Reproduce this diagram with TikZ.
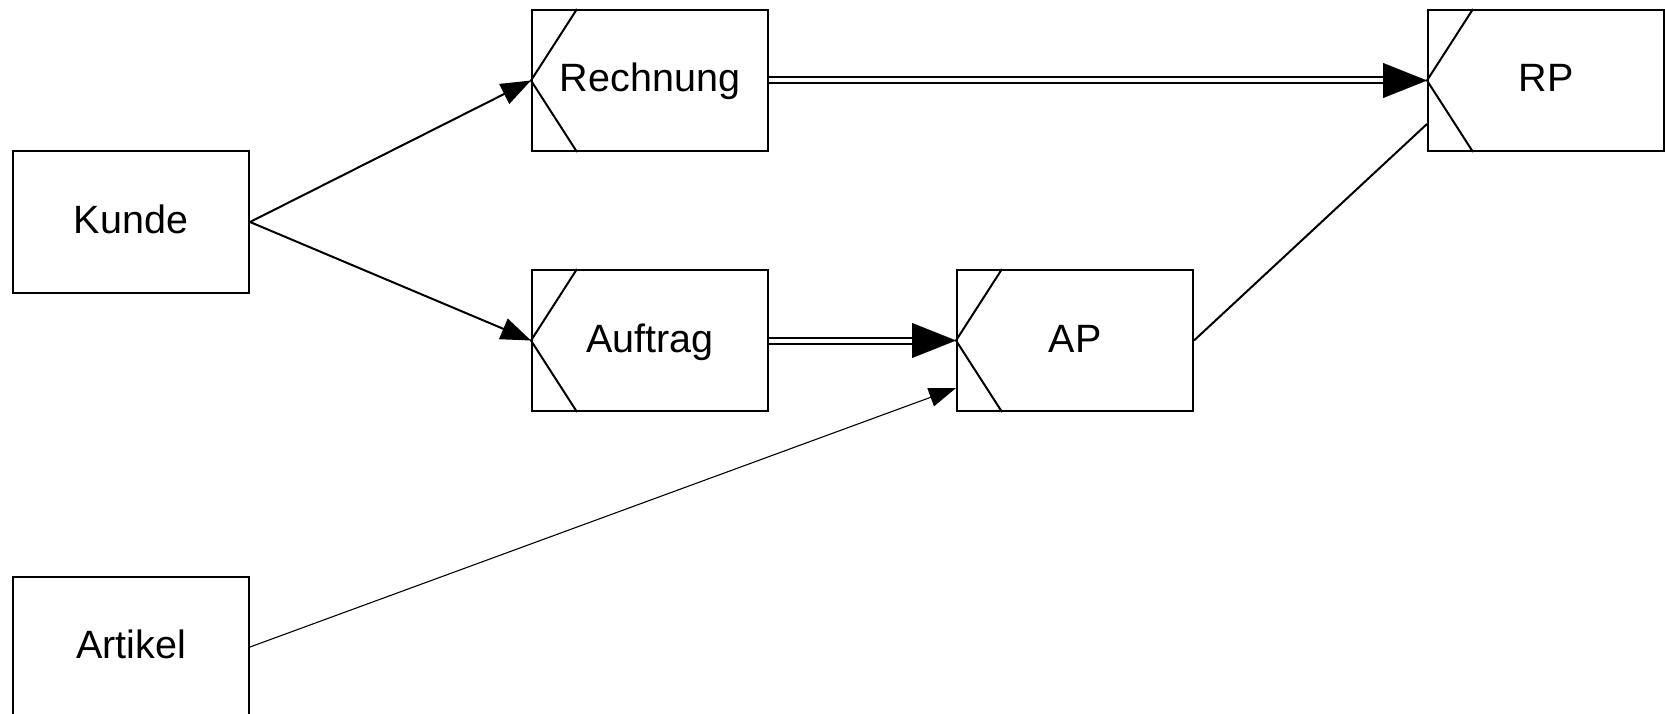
\documentclass[tikz,border=0pt]{standalone}
\usepackage{fontspec}
\setmainfont{Liberation Sans}
\usetikzlibrary{arrows.meta}
\begin{document}
\begin{tikzpicture}[x=1pt,y=-1pt,
  box/.style={draw, line width=2pt, minimum width=236pt, minimum height=141pt,
    inner sep=0pt, text height=31pt, text depth=8pt,
    font=\fontsize{39.5}{47}\selectfont},
  link/.style={line width=2pt, -{Triangle[length=30pt,width=22pt]}},
  thinlink/.style={line width=1.1pt, -{Triangle[length=27pt,width=19pt]}},
  plainlink/.style={line width=2pt},
  dbl/.style={double, double distance=4pt, line width=2pt, shorten >=42pt},
  bigtip/.style={line width=0.1pt, -{Triangle[length=44pt,width=35pt]}},
  chevron/.style={line width=2pt}]

\useasboundingbox (0,0) rectangle (1665,714);

% entity boxes
\node[box] (kunde)    at (131,222)    {Kunde};
\node[box] (artikel)  at (131,647)    {Artikel};
\node[box] (rechnung) at (650,80.5)   {Rechnung};
\node[box] (rp)       at (1546,80.5)  {RP};
\node[box] (auftrag)  at (650,340.5)  {Auftrag};
\node[box] (ap)       at (1075,340.5) {AP};

% chevrons on the dependent boxes
\foreach \n in {rechnung,rp,auftrag,ap}
  \draw[chevron] ([xshift=46pt]\n.north west) -- (\n.west) -- ([xshift=46pt]\n.south west);

% single links
\draw[link] (kunde.east) -- (rechnung.west);
\draw[link] (kunde.east) -- (auftrag.west);
\draw[thinlink] (artikel.east) -- ([yshift=-47.5pt]ap.west);
\draw[plainlink] (ap.east) -- ([yshift=-43.5pt]rp.west);

% double links
\draw[dbl] (rechnung.east) -- (rp.west);
\draw[bigtip] ([xshift=-44pt]rp.west) -- (rp.west);
\draw[dbl] (auftrag.east) -- (ap.west);
\draw[bigtip] ([xshift=-44pt]ap.west) -- (ap.west);
\end{tikzpicture}
\end{document}
